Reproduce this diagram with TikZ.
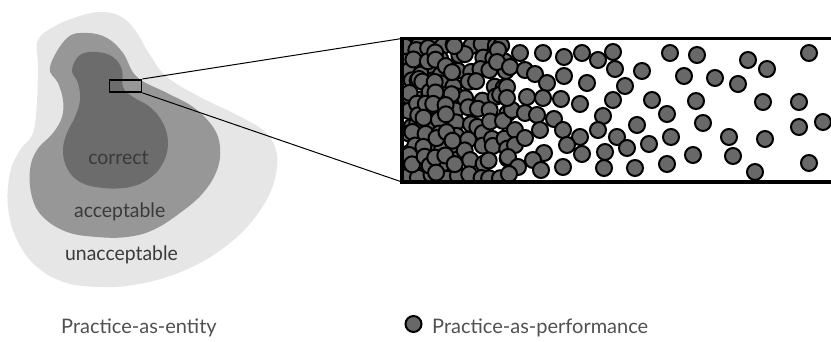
\documentclass[tikz,border=0pt]{standalone}
\usepackage{fontspec}
\setmainfont{Lato}
\newfontfamily\blobfont{Lato}[FakeStretch=0.97]
\definecolor{outerg}{HTML}{E6E6E7}
\definecolor{midg}{HTML}{979797}
\definecolor{darkg}{HTML}{6C6C6C}
\definecolor{dotg}{HTML}{686868}
\definecolor{labg}{HTML}{3A3A3A}
\definecolor{leg}{HTML}{505050}
\tikzset{
  dot/.style={fill=dotg, draw=black, line width=2pt},
  blobtext/.style={font=\blobfont\fontsize{20}{22}\selectfont, text=labg, anchor=base, inner sep=0pt},
  legtext/.style={font=\fontsize{20}{22}\selectfont, text=leg, anchor=base west, inner sep=0pt},
  zoomline/.style={draw=black, line width=1pt},
}
\begin{document}
\begin{tikzpicture}[x=1pt, y=-1pt]
\useasboundingbox (0,0) rectangle (831,342);
% blobs
\fill[outerg] plot[smooth cycle, tension=0.65] coordinates {(38,40) (57,25) (80,16) (100,12) (120,16) (135,30) (150,55) (167,77) (200,97) (233,113) (263,130) (275,147) (277,167) (270,193) (253,220) (230,243) (200,263) (167,277) (133,285) (103,287) (67,283) (37,267) (17,240) (8,207) (10,173) (20,150) (33,133) (37,100) (38,65)};
\fill[midg] plot[smooth cycle, tension=0.65] coordinates {(50,67) (67,38) (87,33) (107,38) (123,53) (137,77) (167,93) (193,107) (213,127) (220,147) (217,170) (203,193) (180,213) (153,230) (127,237) (97,237) (67,232) (43,217) (32,197) (30,170) (37,150) (53,133) (62,117) (63,100) (58,83)};
\fill[darkg] plot[smooth cycle, tension=0.65] coordinates {(72,70) (80,55) (97,52) (113,57) (122,70) (123,87) (133,97) (150,107) (163,123) (168,143) (163,163) (150,178) (130,187) (103,188) (80,182) (67,168) (63,150) (67,133) (75,117) (80,100) (78,83)};
\node[blobtext] (correct) at (118.4,164.3) {correct};
\node[blobtext] (acceptable) at (119.7,217.3) {acceptable};
\node[blobtext] (unacceptable) at (121.5,260.7) {unacceptable};
% zoom box
\node[draw=black, line width=1.8pt, minimum width=32pt, minimum height=12pt, inner sep=0pt, anchor=north west] (zoombox) at (108.5,79) {};
\coordinate (ptl) at (402,38.5);
\coordinate (pbl) at (402,182);
\draw[zoomline] (zoombox.north east) -- (ptl);
\draw[zoomline] (zoombox.south east) -- (pbl);
% panel contents
\begin{scope}
\clip (402,38.5) rectangle (840,182);
\pgfmathsetseed{12}
\foreach \i in {0,...,8} {
  \foreach \j in {0,...,10} {
    \pgfmathsetmacro\xx{408+12*\i+4*rand}
    \pgfmathsetmacro\yy{45+13*\j+4*rand}
    \draw[dot] (\xx,\yy) circle[radius=8];
  }
}
\foreach \i in {0,...,3} {
  \foreach \j in {0,...,9} {
    \pgfmathsetmacro\xx{414+12*\i+5*rand}
    \pgfmathsetmacro\yy{51+13*\j+5*rand}
    \draw[dot] (\xx,\yy) circle[radius=8];
  }
}
\foreach \p in {(512,110),(515,130),(515,145),(508,157),(518,167),(509,174),
(498,50),(497,62),(510,67),(520,53),(525,70),(535,74),(543,53),(547,83),(564,57),(564,76),(582,53),(598,60),(613,52),(615,69),(587,83),(625,86),(642,71),(670,53),(697,55),(684,76),(715,78),(748,60),(767,69),(738,84),(809,53),
(507,87),(507,98),(527,97),(543,98),(561,99),(580,104),(613,100),(652,100),(696,101),(763,102),(799,102),
(525,113),(537,115),(554,119),(603,116),(667,114),(703,123),(799,127),(823,122),(637,125),
(540,130),(563,130),(598,130),(525,138),(580,137),(617,137),(671,137),(729,137),(765,139),(567,145),(649,144),(627,148),
(544,153),(582,154),(605,152),(693,155),(733,156),(533,160),(667,164),(809,163),(563,167),(541,170),(604,168),(635,168),(755,172)} {
  \draw[dot] \p circle[radius=8];
}
\end{scope}
% panel border (open on the right)
\draw[line width=3.5pt] (840,38.5) -- (402,38.5) -- (402,182) -- (840,182);
% legend
\node[legtext] (entity) at (61,333) {Practice-as-entity};
\draw[dot] (413.5,324) circle[radius=8];
\node[legtext] (performance) at (432,333) {Practice-as-performance};
\end{tikzpicture}
\end{document}
